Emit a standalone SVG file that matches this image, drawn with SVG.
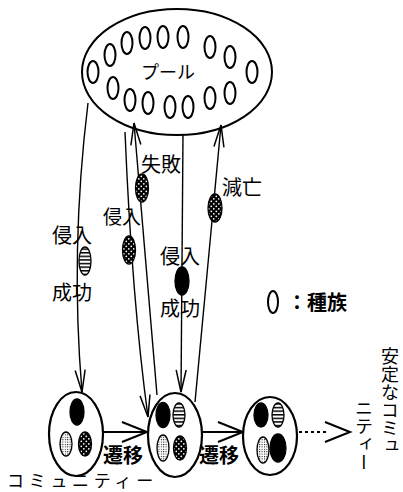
<svg xmlns="http://www.w3.org/2000/svg" width="403" height="492" viewBox="0 0 403 492">
<style>
.sp{fill:#fff;stroke:#000;stroke-width:2}
.ln{fill:none;stroke:#000;stroke-width:1.4}
.cm{fill:#fff;stroke:#000;stroke-width:2.2}
.o{stroke:#000;stroke-width:1.3}
.t{font-family:"Noto Sans CJK JP","Noto Sans",sans-serif;font-size:20px;fill:#000}
.b{font-weight:bold}
</style>
<defs>
<pattern id="stripe" width="6" height="3.6" patternUnits="userSpaceOnUse">
<rect width="6" height="3.6" fill="#fff"/>
<rect y="0" width="6" height="1.5" fill="#000"/>
</pattern>
<pattern id="stip" width="2.4" height="2.4" patternUnits="userSpaceOnUse">
<rect width="2.4" height="2.4" fill="#fff"/>
<rect x="0" y="0" width="1" height="1" fill="#000"/>
</pattern>
<pattern id="dots" width="5" height="5" patternUnits="userSpaceOnUse">
<rect width="5" height="5" fill="#000"/>
<circle cx="1.3" cy="1.3" r="0.9" fill="#fff"/>
<circle cx="3.8" cy="3.8" r="0.9" fill="#fff"/>
</pattern>
<marker id="ah" markerUnits="userSpaceOnUse" orient="auto" overflow="visible" refX="0" refY="0" markerWidth="1" markerHeight="1">
<path d="M-22,-5 L0,0 L-22,5" fill="none" stroke="#000" stroke-width="1.5"/>
</marker>
<marker id="ahh" markerUnits="userSpaceOnUse" orient="auto" overflow="visible" refX="0" refY="0" markerWidth="1" markerHeight="1">
<path d="M-25,-10 L0,0 L-25,10" fill="none" stroke="#000" stroke-width="2"/>
</marker>
</defs>
<rect width="403" height="492" fill="#fff"/>

<g id="connectors">
<path class="ln" d="M88,103 Q70,250 82,392" marker-end="url(#ah)"/>
<path class="ln" d="M125,132 Q132,300 148,417" marker-end="url(#ah)"/>
<path class="ln" d="M157,395 L134,123" marker-end="url(#ah)"/>
<path class="ln" d="M183,134 L181,392" marker-end="url(#ah)"/>
<path class="ln" d="M195,402 L221,125" marker-end="url(#ah)"/>
<path class="ln" style="stroke-width:2" d="M103,432 L147,432" marker-end="url(#ahh)"/>
<path class="ln" style="stroke-width:2" d="M202,432 L243,432" marker-end="url(#ahh)"/>
<path class="ln" style="stroke-width:2;stroke-dasharray:3,3" d="M299,432 L326,432"/>
<path class="ln" style="stroke-width:2" d="M326,432 L350,432" stroke-opacity="0" marker-end="url(#ahh)"/>
<ellipse class="o" cx="85" cy="261" rx="6" ry="14" fill="url(#stripe)"/>
<ellipse class="o" cx="129" cy="250" rx="6.5" ry="14" fill="url(#dots)"/>
<ellipse class="o" cx="142" cy="188" rx="6.5" ry="14" fill="url(#dots)"/>
<ellipse class="o" cx="182" cy="281" rx="7" ry="14" fill="#000"/>
<ellipse class="o" cx="215" cy="208" rx="7" ry="14" fill="url(#dots)"/>
</g>

<g id="pool">
<ellipse cx="177" cy="72" rx="95" ry="63" fill="none" stroke="#000" stroke-width="2"/>
<ellipse class="sp" cx="93" cy="72" rx="5.5" ry="11"/>
<ellipse class="sp" cx="110" cy="55" rx="5.5" ry="11"/>
<ellipse class="sp" cx="127" cy="43" rx="5.5" ry="11"/>
<ellipse class="sp" cx="145" cy="38" rx="5.5" ry="11"/>
<ellipse class="sp" cx="163" cy="37" rx="5.5" ry="11"/>
<ellipse class="sp" cx="183" cy="37" rx="5.5" ry="11"/>
<ellipse class="sp" cx="210" cy="47" rx="5.5" ry="11"/>
<ellipse class="sp" cx="230" cy="57" rx="5.5" ry="11"/>
<ellipse class="sp" cx="252" cy="72" rx="5.5" ry="11"/>
<ellipse class="sp" cx="113" cy="88" rx="5.5" ry="11"/>
<ellipse class="sp" cx="130" cy="100" rx="5.5" ry="11"/>
<ellipse class="sp" cx="148" cy="103" rx="5.5" ry="11"/>
<ellipse class="sp" cx="170" cy="107" rx="5.5" ry="11"/>
<ellipse class="sp" cx="188" cy="107" rx="5.5" ry="11"/>
<ellipse class="sp" cx="210" cy="98" rx="5.5" ry="11"/>
<ellipse class="sp" cx="230" cy="93" rx="5.5" ry="11"/>
<text class="t" x="141" y="79" style="font-size:18px">プール</text>
</g>

<g id="community1">
<ellipse class="cm" cx="76" cy="434" rx="27" ry="42"/>
<ellipse class="o" cx="77" cy="412" rx="7" ry="13" fill="#000"/>
<ellipse class="o" cx="66" cy="444" rx="6" ry="12" fill="url(#stip)"/>
<ellipse class="o" cx="85" cy="444" rx="6.5" ry="12" fill="url(#dots)"/>
</g>

<g id="community2">
<ellipse class="cm" cx="175" cy="435" rx="27" ry="42"/>
<ellipse class="o" cx="163" cy="415" rx="7" ry="12.5" fill="#000"/>
<ellipse class="o" cx="179" cy="415" rx="6" ry="12" fill="url(#stripe)"/>
<ellipse class="o" cx="163" cy="448" rx="6" ry="13" fill="url(#stip)"/>
<ellipse class="o" cx="180" cy="448" rx="6.5" ry="12" fill="url(#dots)"/>
</g>

<g id="community3">
<ellipse class="cm" cx="270" cy="436" rx="27" ry="39"/>
<ellipse class="o" cx="261" cy="415" rx="7" ry="12" fill="#000"/>
<ellipse class="o" cx="278" cy="415" rx="6" ry="12" fill="url(#stripe)"/>
<ellipse class="o" cx="263" cy="450" rx="6" ry="13" fill="url(#stip)"/>
<ellipse class="o" cx="278" cy="448" rx="8" ry="14" fill="#000"/>
</g>

<g id="legend">
<ellipse class="sp" cx="273" cy="302" rx="5" ry="11"/>
<text class="t b" x="287" y="310">：種族</text>
</g>

<g id="labels">
<text class="t" x="52" y="243">侵入</text>
<text class="t" x="52" y="300">成功</text>
<text class="t" x="103" y="224" style="font-size:19px">侵入</text>
<text class="t" x="141" y="172">失敗</text>
<text class="t" x="160" y="264">侵入</text>
<text class="t" x="160" y="316">成功</text>
<text class="t" x="222" y="195">減亡</text>
<text class="t b" x="103" y="463">遷移</text>
<text class="t b" x="199" y="463">遷移</text>
<text class="t" x="7" y="487" style="font-size:17px;letter-spacing:4.7px">コミュニティー</text>
<text class="t" x="390" y="347" style="font-size:18px;writing-mode:vertical-rl">安定なコミュ</text>
<text class="t" x="364" y="399" style="font-size:18px;writing-mode:vertical-rl">ニティー</text>
</g>
</svg>
